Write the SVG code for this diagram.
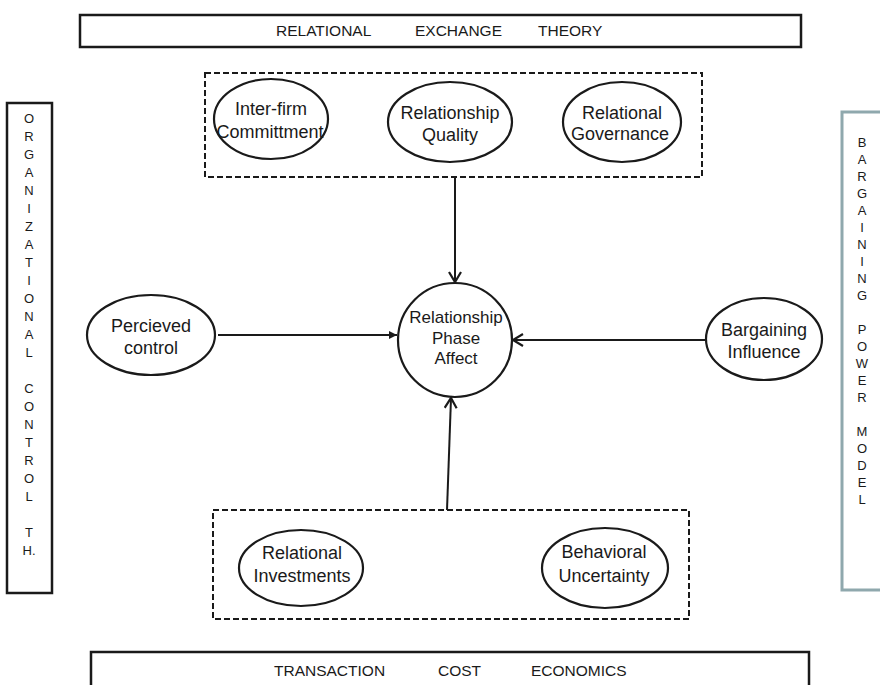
<svg xmlns="http://www.w3.org/2000/svg" width="880" height="685" viewBox="0 0 880 685">
<defs>
<style>
text{font-family:"Liberation Sans",Arial,sans-serif;fill:#1a1a1a;text-anchor:middle}
.box{fill:#fff;stroke:#1a1a1a;stroke-width:2.5}
.dash{fill:none;stroke:#1a1a1a;stroke-width:2;stroke-dasharray:6 3}
.node{fill:#fff;stroke:#1a1a1a;stroke-width:2.2}
.lbl{font-size:18px}
.mid{font-size:17px}
.theory{font-size:15.5px;text-anchor:start}
.vert{font-size:13px}
.con{fill:none;stroke:#1a1a1a;stroke-width:2}
</style>
<marker id="chev" markerWidth="14" markerHeight="14" refX="11" refY="7" orient="auto" markerUnits="userSpaceOnUse">
<path d="M1,1 L11,7 L1,13" fill="none" stroke="#1a1a1a" stroke-width="2.2"/>
</marker>
<marker id="tri" markerWidth="10" markerHeight="10" refX="8" refY="5" orient="auto" markerUnits="userSpaceOnUse">
<path d="M0,1 L8,5 L0,9 Z" fill="#1a1a1a"/>
</marker>
</defs>
<rect width="880" height="685" fill="#fff"/>

<g id="ret">
<rect class="box" x="80" y="15" width="721" height="32"/>
<text class="theory" x="276" y="36">RELATIONAL</text>
<text class="theory" x="415" y="36">EXCHANGE</text>
<text class="theory" x="538" y="36">THEORY</text>
</g>

<g id="tce">
<rect class="box" x="91" y="652" width="718" height="45"/>
<text class="theory" x="274" y="676">TRANSACTION</text>
<text class="theory" x="438" y="676">COST</text>
<text class="theory" x="531" y="676">ECONOMICS</text>
</g>

<g id="oct">
<rect class="box" x="7" y="103" width="45" height="490"/>
<text class="vert" x="29">
<tspan x="29" y="123">O</tspan><tspan x="29" y="141">R</tspan><tspan x="29" y="159">G</tspan><tspan x="29" y="177">A</tspan><tspan x="29" y="195">N</tspan><tspan x="29" y="213">I</tspan><tspan x="29" y="231">Z</tspan><tspan x="29" y="249">A</tspan><tspan x="29" y="267">T</tspan><tspan x="29" y="285">I</tspan><tspan x="29" y="303">O</tspan><tspan x="29" y="321">N</tspan><tspan x="29" y="339">A</tspan><tspan x="29" y="357">L</tspan><tspan x="29" y="393">C</tspan><tspan x="29" y="411">O</tspan><tspan x="29" y="429">N</tspan><tspan x="29" y="447">T</tspan><tspan x="29" y="465">R</tspan><tspan x="29" y="483">O</tspan><tspan x="29" y="501">L</tspan><tspan x="29" y="537">T</tspan><tspan x="29" y="555">H.</tspan>
</text>
</g>

<g id="bpm">
<rect x="842" y="112" width="60" height="478" fill="#fff" stroke="#8fa8ad" stroke-width="3"/>
<text class="vert" x="862">
<tspan x="862" y="147">B</tspan><tspan x="862" y="164">A</tspan><tspan x="862" y="181">R</tspan><tspan x="862" y="198">G</tspan><tspan x="862" y="215">A</tspan><tspan x="862" y="232">I</tspan><tspan x="862" y="249">N</tspan><tspan x="862" y="266">I</tspan><tspan x="862" y="283">N</tspan><tspan x="862" y="300">G</tspan><tspan x="862" y="334">P</tspan><tspan x="862" y="351">O</tspan><tspan x="862" y="368">W</tspan><tspan x="862" y="385">E</tspan><tspan x="862" y="402">R</tspan><tspan x="862" y="436">M</tspan><tspan x="862" y="453">O</tspan><tspan x="862" y="470">D</tspan><tspan x="862" y="487">E</tspan><tspan x="862" y="504">L</tspan>
</text>
</g>

<g id="relational-group">
<rect class="dash" x="205" y="73" width="497" height="104"/>
</g>
<g id="interfirm">
<ellipse class="node" cx="271" cy="119" rx="57" ry="40"/>
<text class="lbl" x="271" y="115">Inter-firm</text>
<text class="lbl" x="270" y="138">Committment</text>
</g>
<g id="quality">
<ellipse class="node" cx="450" cy="122" rx="62" ry="40"/>
<text class="lbl" x="450" y="119">Relationship</text>
<text class="lbl" x="450" y="141">Quality</text>
</g>
<g id="governance">
<ellipse class="node" cx="622" cy="122" rx="59" ry="40"/>
<text class="lbl" x="622" y="119">Relational</text>
<text class="lbl" x="620" y="140">Governance</text>
</g>

<g id="tce-group">
<rect class="dash" x="213" y="510" width="476" height="109"/>
</g>
<g id="investments">
<ellipse class="node" cx="301" cy="568" rx="62" ry="38"/>
<text class="lbl" x="302" y="559">Relational</text>
<text class="lbl" x="302" y="582">Investments</text>
</g>
<g id="uncertainty">
<ellipse class="node" cx="605" cy="568" rx="63" ry="40"/>
<text class="lbl" x="604" y="558">Behavioral</text>
<text class="lbl" x="604" y="582">Uncertainty</text>
</g>

<g id="control">
<ellipse class="node" cx="151" cy="335" rx="64" ry="40"/>
<text class="lbl" x="151" y="332">Percieved</text>
<text class="lbl" x="151" y="354">control</text>
</g>

<g id="phase">
<circle class="node" cx="455" cy="340" r="57"/>
<text class="mid" x="456" y="323">Relationship</text>
<text class="mid" x="456" y="344">Phase</text>
<text class="mid" x="456" y="364">Affect</text>
</g>

<g id="bargaining">
<ellipse class="node" cx="764" cy="339" rx="58" ry="41"/>
<text class="lbl" x="764" y="336">Bargaining</text>
<text class="lbl" x="764" y="358">Influence</text>
</g>

<g id="connectors">
<line class="con" x1="455" y1="177" x2="455" y2="282" marker-end="url(#chev)"/>
<line class="con" x1="218" y1="335" x2="397" y2="335" marker-end="url(#tri)"/>
<line class="con" x1="706" y1="340" x2="513" y2="340" marker-end="url(#chev)"/>
<line class="con" x1="447" y1="510" x2="451" y2="398" marker-end="url(#chev)"/>
</g>
</svg>
